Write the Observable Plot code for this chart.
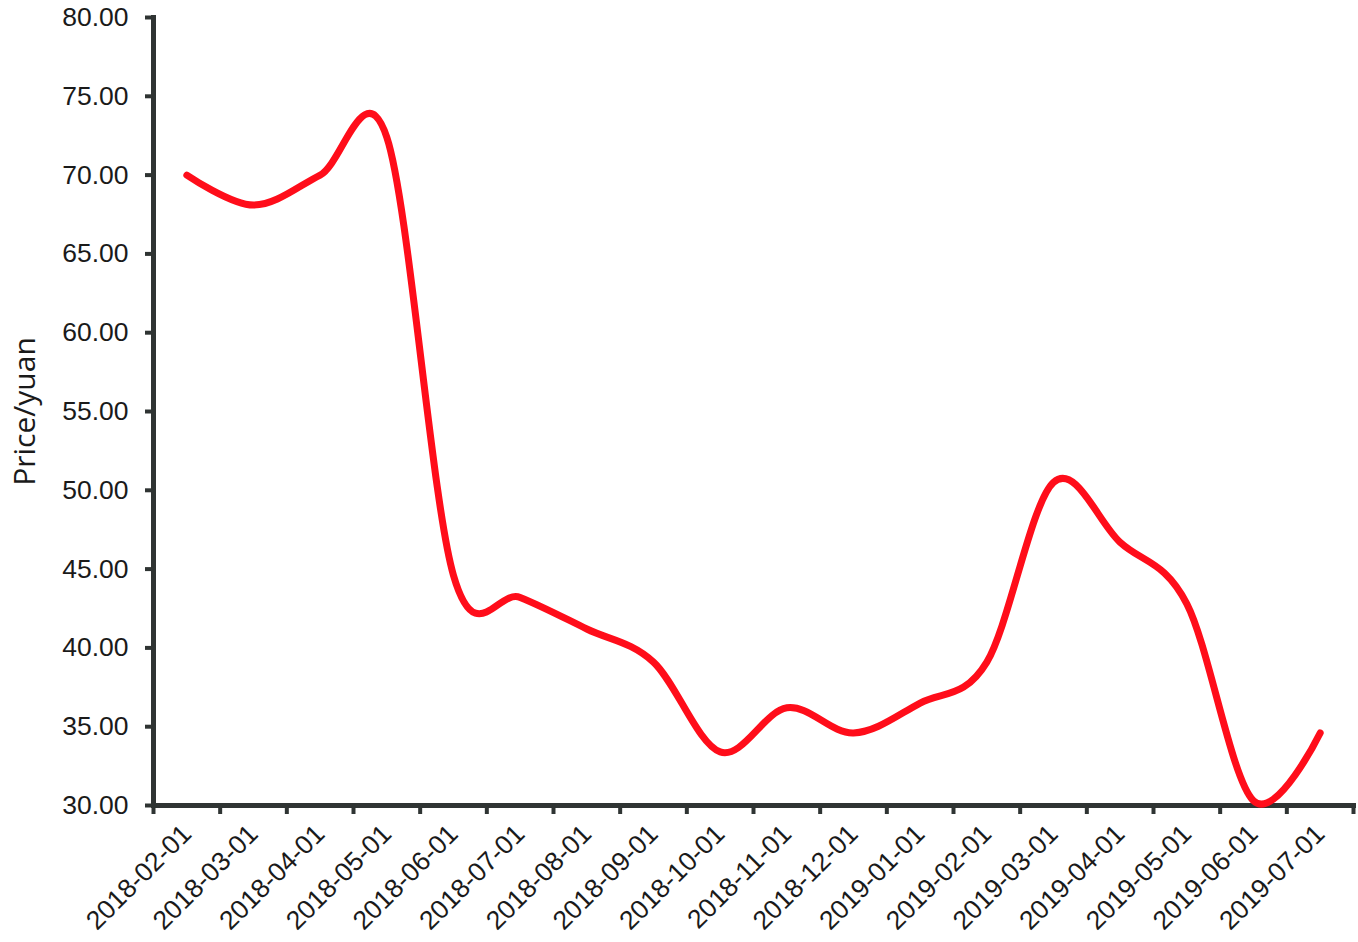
<!DOCTYPE html>
<html>
<head>
<meta charset="utf-8">
<script src="https://cdn.jsdelivr.net/npm/d3@7"></script>
<script src="https://cdn.jsdelivr.net/npm/@observablehq/plot@0.6"></script>
<style>
  html, body { margin: 0; padding: 0; background: #fff; }
  #chart svg { display: block; }
</style>
</head>
<body>
<div id="chart"></div>
<script>
// Categories (x tick labels)
const dates = ["2018-02-01","2018-03-01","2018-04-01","2018-05-01","2018-06-01","2018-07-01",
  "2018-08-01","2018-09-01","2018-10-01","2018-11-01","2018-12-01","2019-01-01",
  "2019-02-01","2019-03-01","2019-04-01","2019-05-01","2019-06-01","2019-07-01"];
// Price values (yuan)
const prices = [70.0, 68.1, 70.0, 72.4, 44.6, 43.2, 41.2, 39.1, 33.4, 36.2, 34.6, 36.5,
  39.1, 50.5, 46.7, 42.8, 30.3, 34.6];
// Y tick values
const yTicks = [30, 35, 40, 45, 50, 55, 60, 65, 70, 75, 80];
const yLabel = "Price/yuan";

const data = dates.map((d, i) => ({date: d, idx: i, price: prices[i]}));
const axisColor = "#2f3433";

const chart = Plot.plot({
  width: 1358,
  height: 942,
  marginLeft: 153,
  marginRight: 5,
  marginTop: 17,
  marginBottom: 137,
  style: {fontFamily: "'Liberation Sans', Arial, sans-serif", background: "#fff", color: "#1a1a1a"},
  x: {type: "linear", domain: [0, dates.length]},
  y: {domain: [30, 80]},
  marks: [
    Plot.frame({anchor: "left", stroke: axisColor, strokeWidth: 5}),
    Plot.frame({anchor: "bottom", stroke: axisColor, strokeWidth: 5}),
    Plot.axisY({ticks: yTicks, tickFormat: d => d.toFixed(2), tickSize: 8, tickPadding: 17,
      fontSize: 26.5, stroke: axisColor, strokeWidth: 4, fill: "#1a1a1a", label: null}),
    Plot.axisX({ticks: d3.range(dates.length + 1), tickFormat: () => "", tickSize: 9,
      stroke: axisColor, strokeWidth: 4, label: null}),
    Plot.axisX({ticks: d3.range(dates.length).map(i => i + 0.5), tickFormat: v => dates[Math.floor(v)],
      tickSize: 0, tickPadding: 24, tickRotate: -45, fontSize: 26.5, fill: "#1a1a1a", label: null}),
    Plot.text([yLabel], {frameAnchor: "left", textAnchor: "middle", rotate: -90, dx: -128, fontSize: 30,
      fontFamily: "'Open Sans', sans-serif", fill: "#1a1a1a"}),
    Plot.line(data, {x: d => d.idx + 0.5, y: "price", curve: "cardinal", stroke: "#ff0d1a",
      strokeWidth: 7, strokeLinecap: "round", strokeLinejoin: "round"})
  ]
});
document.getElementById("chart").appendChild(chart);
</script>
</body>
</html>
